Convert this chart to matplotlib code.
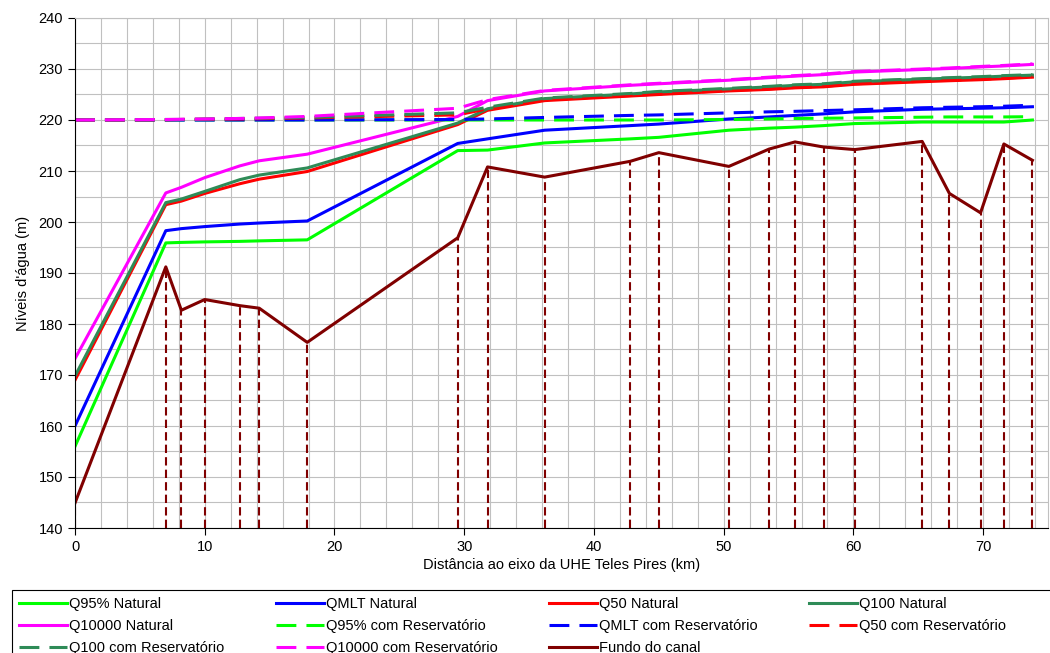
import numpy as np
import matplotlib
matplotlib.use("Agg")
import matplotlib.pyplot as plt
from matplotlib.ticker import MultipleLocator
from matplotlib.patches import Rectangle

plt.rcParams["font.family"] = ["Liberation Sans", "DejaVu Sans"]

# -----------------------------
# data
# -----------------------------
dist_km = [0, 7.0, 8.2, 10.0, 12.7, 14.2, 17.9, 29.5, 31.8, 36.2, 42.8, 45.0,
           50.4, 53.5, 55.5, 57.7, 60.1, 65.3, 67.4, 69.8, 71.6, 73.8]

q95_nat = [156.0, 195.9, 196.0, 196.1, 196.2, 196.3, 196.5, 214.0, 214.1, 215.5, 216.3, 216.6,
           218.0, 218.4, 218.6, 218.9, 219.3, 219.6, 219.6, 219.6, 219.6, 220.0]
qmlt_nat = [160.0, 198.3, 198.7, 199.1, 199.6, 199.8, 200.2, 215.4, 216.3, 218.0, 218.9, 219.2,
            220.2, 220.6, 220.9, 221.2, 221.6, 222.1, 222.2, 222.3, 222.4, 222.6]
q50_nat = [169.0, 203.4, 204.1, 205.6, 207.5, 208.4, 209.9, 219.1, 221.9, 223.8, 224.7, 225.0,
           225.7, 226.0, 226.3, 226.5, 227.0, 227.5, 227.7, 227.9, 228.1, 228.4]
q100_nat = [169.8, 203.8, 204.5, 206.0, 208.3, 209.2, 210.6, 219.4, 222.2, 224.2, 225.1, 225.5,
            226.1, 226.5, 226.8, 227.0, 227.5, 228.0, 228.2, 228.4, 228.6, 228.8]
q10000_nat = [173.2, 205.7, 206.8, 208.7, 211.0, 212.0, 213.3, 220.7, 223.8, 225.7, 226.8, 227.1,
              227.8, 228.3, 228.6, 228.9, 229.4, 229.9, 230.1, 230.4, 230.6, 230.9]

q95_res = [220.0, 220.0, 220.0, 220.0, 220.0, 220.0, 220.0, 220.0, 220.0, 220.0, 220.0, 220.0,
           220.1, 220.2, 220.3, 220.35, 220.4, 220.55, 220.6, 220.6, 220.6, 220.65]
qmlt_res = [220.0, 220.0, 220.0, 220.0, 220.0, 220.0, 220.0, 220.1, 220.2, 220.5, 220.9, 221.0,
            221.4, 221.6, 221.7, 221.85, 222.0, 222.4, 222.5, 222.6, 222.7, 222.9]
q50_res = [220.0, 220.05, 220.1, 220.15, 220.2, 220.25, 220.4, 221.0, 222.2, 224.0, 224.8, 225.1,
           225.8, 226.1, 226.4, 226.6, 227.1, 227.6, 227.8, 228.0, 228.2, 228.5]
q100_res = [220.0, 220.1, 220.1, 220.2, 220.3, 220.35, 220.5, 221.4, 222.5, 224.3, 225.2, 225.6,
            226.2, 226.6, 226.9, 227.1, 227.6, 228.1, 228.3, 228.5, 228.7, 228.9]
q10000_res = [220.0, 220.1, 220.15, 220.2, 220.3, 220.4, 220.7, 222.3, 224.0, 225.8, 226.9, 227.2,
              227.9, 228.4, 228.7, 229.0, 229.5, 230.0, 230.2, 230.5, 230.7, 231.0]

fundo = [144.9, 191.2, 182.7, 184.8, 183.6, 183.1, 176.4, 196.9, 210.8, 208.8, 211.9, 213.6,
         210.9, 214.3, 215.7, 214.7, 214.2, 215.8, 205.6, 201.8, 215.3, 212.1]

series = [
    ("Q95% Natural", q95_nat, "#00ff00", "-"),
    ("QMLT Natural", qmlt_nat, "#0000ff", "-"),
    ("Q50 Natural", q50_nat, "#ff0000", "-"),
    ("Q100 Natural", q100_nat, "#2e8b57", "-"),
    ("Q10000 Natural", q10000_nat, "#ff00ff", "-"),
    ("Q95% com Reservatório", q95_res, "#00ff00", "--"),
    ("QMLT com Reservatório", qmlt_res, "#0000ff", "--"),
    ("Q50 com Reservatório", q50_res, "#ff0000", "--"),
    ("Q100 com Reservatório", q100_res, "#2e8b57", "--"),
    ("Q10000 com Reservatório", q10000_res, "#ff00ff", "--"),
]

Y_MIN, Y_MAX = 140, 240
W, H = 1050, 653

# -----------------------------
# plot
# -----------------------------
fig = plt.figure(figsize=(W / 100, H / 100), dpi=100)
ax = fig.add_axes([75 / W, 1 - 528 / H, (1048 - 75) / W, (528 - 18) / H])

ax.set_xlim(0, 75)
ax.set_ylim(Y_MIN, Y_MAX)
ax.xaxis.set_major_locator(MultipleLocator(10))
ax.xaxis.set_minor_locator(MultipleLocator(2))
ax.yaxis.set_major_locator(MultipleLocator(10))
ax.yaxis.set_minor_locator(MultipleLocator(5))
ax.grid(True, which="both", color="#c0c0c0", linewidth=0.8)
ax.set_axisbelow(True)
ax.tick_params(axis="x", which="minor", length=0)
ax.tick_params(axis="y", which="minor", length=0)
ax.tick_params(which="major", length=5, width=0.8, labelsize=10.5, direction="out")
for side in ("top", "right"):
    ax.spines[side].set_color("#c0c0c0")
    ax.spines[side].set_linewidth(0.8)

# cross sections, dashed drops to the axis
ax.vlines(dist_km, Y_MIN, fundo, colors="#800000", linestyles=(0, (4, 2)), linewidth=1.5)

handles = []
for label, vals, color, ls in series:
    if ls == "--":
        ln, = ax.plot(dist_km, vals, color=color, linewidth=2.2, dashes=(6.5, 3.3), label=label)
    else:
        ln, = ax.plot(dist_km, vals, color=color, linewidth=2.2, label=label)
    handles.append(ln)

ln, = ax.plot(dist_km, fundo, color="#800000", linewidth=2.2, label="Fundo do canal")
handles.append(ln)

ax.set_xlabel("Distância ao eixo da UHE Teles Pires (km)", fontsize=10.5, labelpad=3)
ax.set_ylabel("Níveis d'água (m)", fontsize=10.5, labelpad=6)

# excel-like legend, filled row by row; box runs off the right/bottom edge
order = [0, 4, 8, 1, 5, 9, 2, 6, 10, 3, 7]
leg = fig.legend([handles[i] for i in order], [handles[i].get_label() for i in order],
                 ncol=4, loc="upper left", bbox_to_anchor=(16 / W, 1 - 594 / H),
                 fontsize=10.5, frameon=False,
                 handlelength=3.3, handletextpad=0.15, columnspacing=3.5,
                 labelspacing=0.55, borderpad=0.2, borderaxespad=0)
fig.patches.append(Rectangle((12 / W, -0.05), (W + 10) / W, 0.05 + (H - 590) / H,
                             transform=fig.transFigure, fill=False,
                             edgecolor="black", linewidth=0.8))

fig.savefig("out.png", dpi=100)
